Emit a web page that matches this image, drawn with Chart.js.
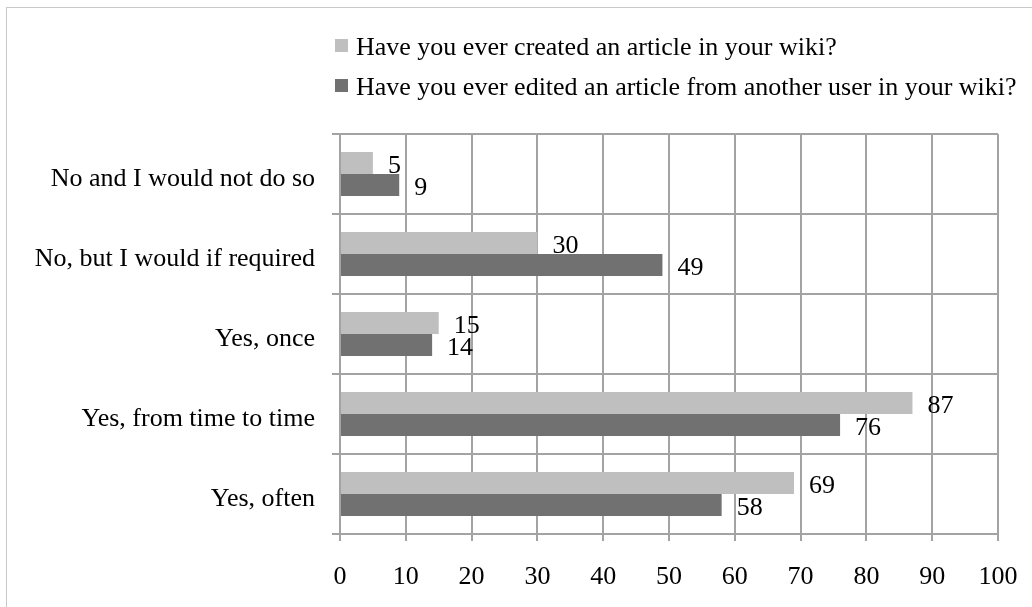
<!DOCTYPE html>
<html>
<head>
<meta charset="utf-8">
<script src="https://cdn.jsdelivr.net/npm/chart.js@4/dist/chart.umd.min.js"></script>
<style>
  html, body { margin: 0; padding: 0; background: #fff; overflow: hidden; }
  #wrap { position: relative; width: 1032px; height: 607px; }
  #frame { position: absolute; left: 6px; top: 7px; width: 1100px; height: 700px; border: 1px solid #c8c8c8; box-sizing: border-box; }
  canvas { position: absolute; left: 0; top: 0; }
</style>
</head>
<body>
<div id="wrap">
  <div id="frame"></div>
  <canvas id="chart" width="1032" height="607"></canvas>
</div>
<script>
const categories = [
  "No and I would not do so",
  "No, but I would if required",
  "Yes, once",
  "Yes, from time to time",
  "Yes, often"
];
const seriesNames = [
  "Have you ever created an article in your wiki?",
  "Have you ever edited an article from another user in your wiki?"
];
const created = [5, 30, 15, 87, 69];
const edited = [9, 49, 14, 76, 58];
const xTicks = [0, 10, 20, 30, 40, 50, 60, 70, 80, 90, 100];

const FONT = "'Liberation Serif', 'Times New Roman', serif";
const FONT_SIZE = 26;
const GRID = "#a3a3a3";

// value labels to the right of each bar
const valueLabels = {
  id: "valueLabels",
  afterDatasetsDraw(chart) {
    const ctx = chart.ctx;
    ctx.save();
    ctx.font = FONT_SIZE + "px " + FONT;
    ctx.fillStyle = "#000";
    ctx.textAlign = "left";
    ctx.textBaseline = "middle";
    chart.data.datasets.forEach((ds, i) => {
      const meta = chart.getDatasetMeta(i);
      meta.data.forEach((bar, j) => {
        ctx.fillText(String(ds.data[j]), bar.x + 15, bar.y + 3);
      });
    });
    ctx.restore();
  }
};

// stacked legend, left-aligned just before the plot area
const stackedLegend = {
  id: "stackedLegend",
  afterDraw(chart) {
    const ctx = chart.ctx;
    const x0 = chart.chartArea.left - 5;
    ctx.save();
    ctx.font = FONT_SIZE + "px " + FONT;
    ctx.textBaseline = "middle";
    ctx.textAlign = "left";
    chart.data.datasets.forEach((ds, i) => {
      const y = 48 + i * 40;
      ctx.fillStyle = ds.backgroundColor;
      ctx.fillRect(x0, y - 9, 13, 13);
      ctx.fillStyle = "#000";
      ctx.fillText(ds.label, x0 + 21, y);
    });
    ctx.restore();
  }
};

new Chart(document.getElementById("chart"), {
  type: "bar",
  data: {
    labels: categories,
    datasets: [
      { label: seriesNames[0], data: created, backgroundColor: "#bfbfbf", barPercentage: 1, categoryPercentage: 0.55 },
      { label: seriesNames[1], data: edited, backgroundColor: "#717171", barPercentage: 1, categoryPercentage: 0.55 }
    ]
  },
  options: {
    indexAxis: "y",
    responsive: false,
    animation: false,
    events: [],
    layout: { padding: { top: 134, right: 34, bottom: 0, left: 0 } },
    plugins: {
      legend: { display: false },
      tooltip: { enabled: false }
    },
    scales: {
      x: {
        min: 0,
        max: 100,
        afterBuildTicks: (scale) => { scale.ticks = xTicks.map(v => ({ value: v })); },
        afterFit: (scale) => { scale.height = 73; scale.paddingRight = 0; scale.paddingLeft = 0; },
        grid: { color: GRID, lineWidth: 2, tickLength: 7, drawTicks: true },
        border: { color: GRID, width: 2 },
        ticks: { color: "#000", padding: 21, font: { family: FONT, size: FONT_SIZE } }
      },
      y: {
        afterFit: (scale) => { scale.width = 340; },
        grid: { color: GRID, lineWidth: 2, tickLength: 8, offset: true },
        border: { color: GRID, width: 2 },
        ticks: { color: "#000", padding: 17, labelOffset: 5, font: { family: FONT, size: FONT_SIZE } }
      }
    }
  },
  plugins: [valueLabels, stackedLegend]
});
</script>
</body>
</html>
